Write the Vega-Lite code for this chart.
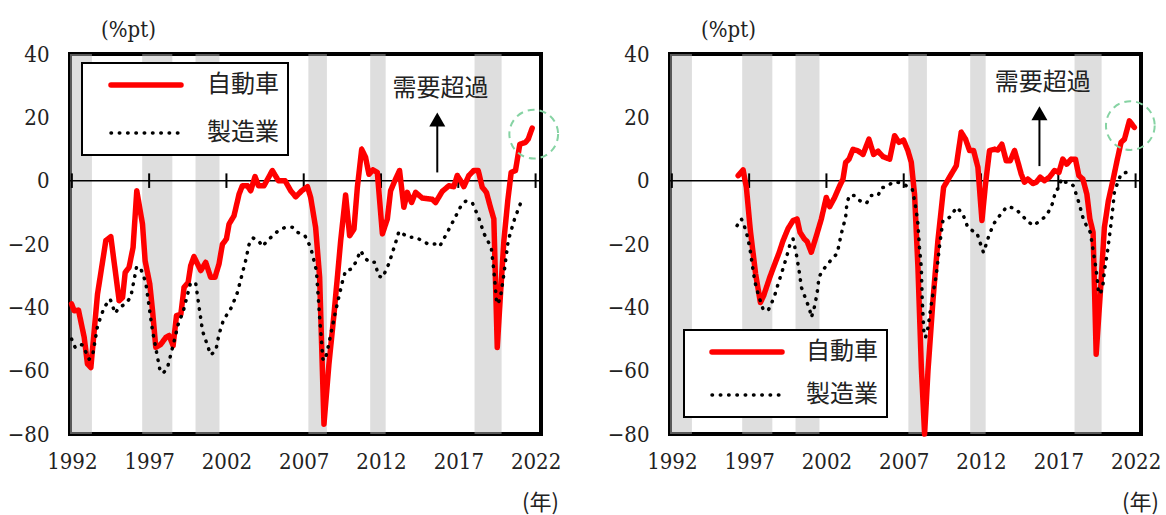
{
"$schema": "https://vega.github.io/schema/vega-lite/v6.json",
"padding": {"left": 5, "top": 16, "right": 5, "bottom": 0},
"background": "white",
"spacing": 129,
"bounds": "flush",
"datasets": {
"bands": [{"x":1991.88,"x2":1993.3},{"x":1996.55,"x2":1998.5},{"x":2000.0,"x2":2001.55},{"x":2007.3,"x2":2008.5},{"x":2011.3,"x2":2012.3},{"x":2018.05,"x2":2019.8}],
"ticks": [{"x":1992},{"x":1997},{"x":2002},{"x":2007},{"x":2012},{"x":2017},{"x":2022}],
"L": [
{"s":"自動車","x":1991.98,"y":-38.9},{"s":"自動車","x":1992.15,"y":-41.1},{"s":"自動車","x":1992.43,"y":-40.9},{"s":"自動車","x":1992.8,"y":-49.5},{"s":"自動車","x":1993.01,"y":-57.9},{"s":"自動車","x":1993.23,"y":-59},{"s":"自動車","x":1993.66,"y":-35.8},{"s":"自動車","x":1994.2,"y":-18.9},{"s":"自動車","x":1994.52,"y":-17.7},{"s":"自動車","x":1995.06,"y":-37.9},{"s":"自動車","x":1995.28,"y":-36.9},{"s":"自動車","x":1995.45,"y":-29},{"s":"自動車","x":1995.7,"y":-27.4},{"s":"自動車","x":1995.96,"y":-21.1},{"s":"自動車","x":1996.2,"y":-3.2},{"s":"自動車","x":1996.57,"y":-13.7},{"s":"自動車","x":1996.74,"y":-25.3},{"s":"自動車","x":1997.04,"y":-32.6},{"s":"自動車","x":1997.22,"y":-41.1},{"s":"自動車","x":1997.43,"y":-52.6},{"s":"自動車","x":1997.75,"y":-51.7},{"s":"自動車","x":1998.08,"y":-49.5},{"s":"自動車","x":1998.29,"y":-48.9},{"s":"自動車","x":1998.55,"y":-52.1},{"s":"自動車","x":1998.77,"y":-42.6},{"s":"自動車","x":1999.05,"y":-42.2},{"s":"自動車","x":1999.26,"y":-33.7},{"s":"自動車","x":1999.52,"y":-32.2},{"s":"自動車","x":1999.69,"y":-26.8},{"s":"自動車","x":1999.9,"y":-24},{"s":"自動車","x":2000.34,"y":-28.4},{"s":"自動車","x":2000.66,"y":-25.8},{"s":"自動車","x":2000.98,"y":-30.5},{"s":"自動車","x":2001.26,"y":-30.5},{"s":"自動車","x":2001.52,"y":-26.3},{"s":"自動車","x":2001.74,"y":-20.1},{"s":"自動車","x":2002.0,"y":-18.4},{"s":"自動車","x":2002.17,"y":-13.7},{"s":"自動車","x":2002.49,"y":-11.1},{"s":"自動車","x":2002.82,"y":-4.2},{"s":"自動車","x":2003.03,"y":-1.6},{"s":"自動車","x":2003.36,"y":-1.6},{"s":"自動車","x":2003.57,"y":-3.2},{"s":"自動車","x":2003.85,"y":1.3},{"s":"自動車","x":2004.07,"y":-1.6},{"s":"自動車","x":2004.43,"y":-1.6},{"s":"自動車","x":2004.97,"y":3.2},{"s":"自動車","x":2005.36,"y":0},{"s":"自動車","x":2005.79,"y":0},{"s":"自動車","x":2006.16,"y":-3.2},{"s":"自動車","x":2006.48,"y":-5.1},{"s":"自動車","x":2006.87,"y":-3.2},{"s":"自動車","x":2007.24,"y":-1.9},{"s":"自動車","x":2007.45,"y":-5.3},{"s":"自動車","x":2007.77,"y":-14.8},{"s":"自動車","x":2008.03,"y":-30.5},{"s":"自動車","x":2008.31,"y":-76.9},{"s":"自動車","x":2008.63,"y":-58},{"s":"自動車","x":2008.96,"y":-42.1},{"s":"自動車","x":2009.39,"y":-19},{"s":"自動車","x":2009.71,"y":-4.5},{"s":"自動車","x":2009.97,"y":-17.4},{"s":"自動車","x":2010.25,"y":-15.3},{"s":"自動車","x":2010.47,"y":-2.1},{"s":"自動車","x":2010.75,"y":9.9},{"s":"自動車","x":2011.0,"y":7.4},{"s":"自動車","x":2011.22,"y":2},{"s":"自動車","x":2011.48,"y":3.4},{"s":"自動車","x":2011.76,"y":2.6},{"s":"自動車","x":2012.09,"y":-16.8},{"s":"自動車","x":2012.41,"y":-12.1},{"s":"自動車","x":2012.62,"y":-3.2},{"s":"自動車","x":2012.94,"y":0.5},{"s":"自動車","x":2013.2,"y":3.2},{"s":"自動車","x":2013.48,"y":-8.4},{"s":"自動車","x":2013.7,"y":-3.7},{"s":"自動車","x":2013.98,"y":-6.9},{"s":"自動車","x":2014.24,"y":-3.7},{"s":"自動車","x":2014.67,"y":-5.5},{"s":"自動車","x":2015.32,"y":-5.9},{"s":"自動車","x":2015.53,"y":-6.9},{"s":"自動車","x":2015.96,"y":-3.4},{"s":"自動車","x":2016.39,"y":-1.6},{"s":"自動車","x":2016.71,"y":-1.9},{"s":"自動車","x":2016.93,"y":1.6},{"s":"自動車","x":2017.15,"y":0},{"s":"自動車","x":2017.36,"y":-1.9},{"s":"自動車","x":2017.68,"y":1.6},{"s":"自動車","x":2018.0,"y":3.2},{"s":"自動車","x":2018.29,"y":3.2},{"s":"自動車","x":2018.55,"y":-2.1},{"s":"自動車","x":2018.82,"y":-3.7},{"s":"自動車","x":2019.08,"y":-8.4},{"s":"自動車","x":2019.3,"y":-12.1},{"s":"自動車","x":2019.52,"y":-52.7},{"s":"自動車","x":2019.73,"y":-35.8},{"s":"自動車","x":2019.95,"y":-18.9},{"s":"自動車","x":2020.2,"y":-6.3},{"s":"自動車","x":2020.42,"y":2.6},{"s":"自動車","x":2020.7,"y":3.2},{"s":"自動車","x":2020.98,"y":11.5},{"s":"自動車","x":2021.35,"y":12.1},{"s":"自動車","x":2021.52,"y":13.1},{"s":"自動車","x":2021.78,"y":16.6},
{"s":"製造業","x":1991.98,"y":-50},{"s":"製造業","x":1992.21,"y":-52.6},{"s":"製造業","x":1992.47,"y":-51.6},{"s":"製造業","x":1992.69,"y":-51.9},{"s":"製造業","x":1993.12,"y":-56.4},{"s":"製造業","x":1993.34,"y":-55.3},{"s":"製造業","x":1993.66,"y":-45.9},{"s":"製造業","x":1994.09,"y":-40},{"s":"製造業","x":1994.48,"y":-37.4},{"s":"製造業","x":1994.8,"y":-41.9},{"s":"製造業","x":1995.06,"y":-40},{"s":"製造業","x":1995.45,"y":-39},{"s":"製造業","x":1995.81,"y":-36.8},{"s":"製造業","x":1996.18,"y":-27.4},{"s":"製造業","x":1996.41,"y":-27.2},{"s":"製造業","x":1996.78,"y":-32.1},{"s":"製造業","x":1997.22,"y":-47.5},{"s":"製造業","x":1997.69,"y":-59.6},{"s":"製造業","x":1997.9,"y":-60.9},{"s":"製造業","x":1998.19,"y":-59},{"s":"製造業","x":1998.57,"y":-51.6},{"s":"製造業","x":1998.94,"y":-44.2},{"s":"製造業","x":1999.16,"y":-42.1},{"s":"製造業","x":1999.69,"y":-32.1},{"s":"製造業","x":2000.02,"y":-32.6},{"s":"製造業","x":2000.45,"y":-47.4},{"s":"製造業","x":2000.98,"y":-55},{"s":"製造業","x":2001.31,"y":-53.7},{"s":"製造業","x":2001.52,"y":-48.5},{"s":"製造業","x":2001.8,"y":-44.1},{"s":"製造業","x":2002.33,"y":-40},{"s":"製造業","x":2002.71,"y":-35.3},{"s":"製造業","x":2003.25,"y":-25.1},{"s":"製造業","x":2003.46,"y":-20.2},{"s":"製造業","x":2003.72,"y":-18.1},{"s":"製造業","x":2004.07,"y":-18.9},{"s":"製造業","x":2004.33,"y":-20.8},{"s":"製造業","x":2004.65,"y":-18.9},{"s":"製造業","x":2005.4,"y":-15.6},{"s":"製造業","x":2005.83,"y":-14.7},{"s":"製造業","x":2006.26,"y":-14.7},{"s":"製造業","x":2006.59,"y":-16.3},{"s":"製造業","x":2007.08,"y":-17.4},{"s":"製造業","x":2007.45,"y":-21.1},{"s":"製造業","x":2007.82,"y":-28.4},{"s":"製造業","x":2008.03,"y":-43.2},{"s":"製造業","x":2008.24,"y":-56.3},{"s":"製造業","x":2008.37,"y":-56.8},{"s":"製造業","x":2008.53,"y":-53.7},{"s":"製造業","x":2009.07,"y":-41},{"s":"製造業","x":2009.5,"y":-32},{"s":"製造業","x":2009.71,"y":-28.4},{"s":"製造業","x":2010.1,"y":-27.9},{"s":"製造業","x":2010.36,"y":-25.8},{"s":"製造業","x":2010.68,"y":-22.1},{"s":"製造業","x":2010.96,"y":-24.4},{"s":"製造業","x":2011.26,"y":-25.8},{"s":"製造業","x":2011.61,"y":-25.8},{"s":"製造業","x":2011.83,"y":-30},{"s":"製造業","x":2012.09,"y":-30.7},{"s":"製造業","x":2012.52,"y":-26.1},{"s":"製造業","x":2013.02,"y":-18.4},{"s":"製造業","x":2013.16,"y":-16},{"s":"製造業","x":2013.77,"y":-17.9},{"s":"製造業","x":2014.28,"y":-17.9},{"s":"製造業","x":2014.71,"y":-19.2},{"s":"製造業","x":2015.14,"y":-20.2},{"s":"製造業","x":2015.49,"y":-20},{"s":"製造業","x":2015.79,"y":-20.8},{"s":"製造業","x":2016.29,"y":-16.3},{"s":"製造業","x":2016.71,"y":-12.4},{"s":"製造業","x":2017.15,"y":-8.2},{"s":"製造業","x":2017.47,"y":-6.5},{"s":"製造業","x":2017.9,"y":-6.9},{"s":"製造業","x":2018.33,"y":-11.8},{"s":"製造業","x":2018.65,"y":-16.6},{"s":"製造業","x":2019.13,"y":-21.1},{"s":"製造業","x":2019.3,"y":-28.4},{"s":"製造業","x":2019.48,"y":-38.4},{"s":"製造業","x":2019.56,"y":-39},{"s":"製造業","x":2019.73,"y":-36.8},{"s":"製造業","x":2019.95,"y":-29.5},{"s":"製造業","x":2020.23,"y":-18.9},{"s":"製造業","x":2020.64,"y":-12.1},{"s":"製造業","x":2021.02,"y":-7.2},{"s":"製造業","x":2021.41,"y":-6.1}
],
"R": [
{"s":"自動車","x":1996.29,"y":1.6},{"s":"自動車","x":1996.61,"y":3.4},{"s":"自動車","x":1996.82,"y":-2.1},{"s":"自動車","x":1997.08,"y":-15.8},{"s":"自動車","x":1997.42,"y":-29.5},{"s":"自動車","x":1997.73,"y":-38.5},{"s":"自動車","x":1997.94,"y":-36.3},{"s":"自動車","x":1998.33,"y":-30.6},{"s":"自動車","x":1998.65,"y":-26.4},{"s":"自動車","x":1998.94,"y":-22.7},{"s":"自動車","x":1999.19,"y":-19},{"s":"自動車","x":1999.52,"y":-15.1},{"s":"自動車","x":1999.84,"y":-12.6},{"s":"自動車","x":2000.1,"y":-12.1},{"s":"自動車","x":2000.29,"y":-16.3},{"s":"自動車","x":2000.57,"y":-18.4},{"s":"自動車","x":2000.75,"y":-19.2},{"s":"自動車","x":2001.02,"y":-22.6},{"s":"自動車","x":2001.35,"y":-17.4},{"s":"自動車","x":2001.67,"y":-12.1},{"s":"自動車","x":2001.99,"y":-5.3},{"s":"自動車","x":2002.21,"y":-8.2},{"s":"自動車","x":2002.53,"y":-5.3},{"s":"自動車","x":2002.85,"y":-1.7},{"s":"自動車","x":2003.07,"y":0.5},{"s":"自動車","x":2003.24,"y":5.7},{"s":"自動車","x":2003.46,"y":6.8},{"s":"自動車","x":2003.72,"y":9.9},{"s":"自動車","x":2004.04,"y":9.4},{"s":"自動車","x":2004.37,"y":8.3},{"s":"自動車","x":2004.75,"y":13.1},{"s":"自動車","x":2005.05,"y":8.3},{"s":"自動車","x":2005.34,"y":9.3},{"s":"自動車","x":2005.66,"y":7.6},{"s":"自動車","x":2006.09,"y":6.8},{"s":"自動車","x":2006.41,"y":14.2},{"s":"自動車","x":2006.69,"y":12.1},{"s":"自動車","x":2006.99,"y":12.8},{"s":"自動車","x":2007.27,"y":9.5},{"s":"自動車","x":2007.49,"y":5.8},{"s":"自動車","x":2007.7,"y":-4.3},{"s":"自動車","x":2007.92,"y":-27.4},{"s":"自動車","x":2008.14,"y":-59},{"s":"自動車","x":2008.35,"y":-80},{"s":"自動車","x":2008.57,"y":-60},{"s":"自動車","x":2008.89,"y":-37.9},{"s":"自動車","x":2009.21,"y":-19},{"s":"自動車","x":2009.58,"y":-2.1},{"s":"自動車","x":2009.96,"y":1.1},{"s":"自動車","x":2010.4,"y":4.7},{"s":"自動車","x":2010.72,"y":15.3},{"s":"自動車","x":2011.0,"y":13.1},{"s":"自動車","x":2011.26,"y":9.5},{"s":"自動車","x":2011.52,"y":9.5},{"s":"自動車","x":2011.8,"y":4.2},{"s":"自動車","x":2012.06,"y":-12.6},{"s":"自動車","x":2012.29,"y":-1.1},{"s":"自動車","x":2012.55,"y":9.5},{"s":"自動車","x":2012.87,"y":9.9},{"s":"自動車","x":2013.09,"y":9.7},{"s":"自動車","x":2013.35,"y":11.5},{"s":"自動車","x":2013.63,"y":6.3},{"s":"自動車","x":2013.89,"y":6.3},{"s":"自動車","x":2014.17,"y":9.5},{"s":"自動車","x":2014.39,"y":5.8},{"s":"自動車","x":2014.6,"y":2.1},{"s":"自動車","x":2014.81,"y":-0.5},{"s":"自動車","x":2015.03,"y":0.5},{"s":"自動車","x":2015.36,"y":-0.9},{"s":"自動車","x":2015.57,"y":-0.5},{"s":"自動車","x":2015.83,"y":1.1},{"s":"自動車","x":2016.1,"y":0},{"s":"自動車","x":2016.43,"y":1.1},{"s":"自動車","x":2016.75,"y":3.2},{"s":"自動車","x":2017.04,"y":2.6},{"s":"自動車","x":2017.29,"y":6.8},{"s":"自動車","x":2017.55,"y":5.2},{"s":"自動車","x":2017.83,"y":6.8},{"s":"自動車","x":2018.11,"y":6.8},{"s":"自動車","x":2018.33,"y":1.6},{"s":"自動車","x":2018.59,"y":0.5},{"s":"自動車","x":2018.85,"y":-4.3},{"s":"自動車","x":2019.04,"y":-12},{"s":"自動車","x":2019.25,"y":-16.3},{"s":"自動車","x":2019.45,"y":-54.8},{"s":"自動車","x":2019.77,"y":-31.7},{"s":"自動車","x":2019.98,"y":-14.8},{"s":"自動車","x":2020.24,"y":-6.3},{"s":"自動車","x":2020.53,"y":0},{"s":"自動車","x":2020.8,"y":6.3},{"s":"自動車","x":2021.06,"y":12.1},{"s":"自動車","x":2021.28,"y":13.1},{"s":"自動車","x":2021.6,"y":18.9},{"s":"自動車","x":2021.92,"y":16.8},
{"s":"製造業","x":1996.22,"y":-14.2},{"s":"製造業","x":1996.5,"y":-12.1},{"s":"製造業","x":1996.65,"y":-13.8},{"s":"製造業","x":1996.82,"y":-16.3},{"s":"製造業","x":1997.04,"y":-21.1},{"s":"製造業","x":1997.36,"y":-31.7},{"s":"製造業","x":1997.58,"y":-35.8},{"s":"製造業","x":1997.9,"y":-40.6},{"s":"製造業","x":1998.22,"y":-41.1},{"s":"製造業","x":1998.44,"y":-38.8},{"s":"製造業","x":1998.65,"y":-36.3},{"s":"製造業","x":1998.87,"y":-32.7},{"s":"製造業","x":1999.15,"y":-28.4},{"s":"製造業","x":1999.41,"y":-24.3},{"s":"製造業","x":1999.62,"y":-20.5},{"s":"製造業","x":1999.84,"y":-18.4},{"s":"製造業","x":2000.05,"y":-23.1},{"s":"製造業","x":2000.23,"y":-28.4},{"s":"製造業","x":2000.38,"y":-33.7},{"s":"製造業","x":2000.75,"y":-38.5},{"s":"製造業","x":2000.91,"y":-40.5},{"s":"製造業","x":2001.02,"y":-43.2},{"s":"製造業","x":2001.17,"y":-41.1},{"s":"製造業","x":2001.39,"y":-35.8},{"s":"製造業","x":2001.52,"y":-30.5},{"s":"製造業","x":2001.74,"y":-28.4},{"s":"製造業","x":2002.1,"y":-26.3},{"s":"製造業","x":2002.43,"y":-24.2},{"s":"製造業","x":2002.69,"y":-23.1},{"s":"製造業","x":2002.96,"y":-16.8},{"s":"製造業","x":2003.24,"y":-11.6},{"s":"製造業","x":2003.33,"y":-6.9},{"s":"製造業","x":2003.5,"y":-4.6},{"s":"製造業","x":2003.82,"y":-4.7},{"s":"製造業","x":2004.15,"y":-6.3},{"s":"製造業","x":2004.58,"y":-7.2},{"s":"製造業","x":2004.9,"y":-4.7},{"s":"製造業","x":2005.34,"y":-4.7},{"s":"製造業","x":2005.55,"y":-2.3},{"s":"製造業","x":2005.87,"y":-1.9},{"s":"製造業","x":2006.3,"y":-0.5},{"s":"製造業","x":2006.63,"y":-0.5},{"s":"製造業","x":2006.99,"y":-1.1},{"s":"製造業","x":2007.34,"y":-2.1},{"s":"製造業","x":2007.55,"y":-2.6},{"s":"製造業","x":2007.7,"y":-6.3},{"s":"製造業","x":2007.81,"y":-9.5},{"s":"製造業","x":2007.92,"y":-13.7},{"s":"製造業","x":2008.02,"y":-21.1},{"s":"製造業","x":2008.14,"y":-27.5},{"s":"製造業","x":2008.2,"y":-37.9},{"s":"製造業","x":2008.31,"y":-48.5},{"s":"製造業","x":2008.41,"y":-49.5},{"s":"製造業","x":2008.57,"y":-46.4},{"s":"製造業","x":2008.72,"y":-41.1},{"s":"製造業","x":2008.89,"y":-35.8},{"s":"製造業","x":2009.1,"y":-30},{"s":"製造業","x":2009.32,"y":-20.5},{"s":"製造業","x":2009.54,"y":-12.5},{"s":"製造業","x":2009.96,"y":-11.6},{"s":"製造業","x":2010.44,"y":-8.4},{"s":"製造業","x":2010.83,"y":-10.6},{"s":"製造業","x":2011.15,"y":-14.8},{"s":"製造業","x":2011.48,"y":-15.9},{"s":"製造業","x":2011.73,"y":-16.4},{"s":"製造業","x":2011.9,"y":-19},{"s":"製造業","x":2012.16,"y":-22.7},{"s":"製造業","x":2012.34,"y":-20},{"s":"製造業","x":2012.51,"y":-17.4},{"s":"製造業","x":2012.81,"y":-13.7},{"s":"製造業","x":2013.2,"y":-11.1},{"s":"製造業","x":2013.67,"y":-8.2},{"s":"製造業","x":2014.17,"y":-8.7},{"s":"製造業","x":2014.6,"y":-10.6},{"s":"製造業","x":2014.97,"y":-12.7},{"s":"製造業","x":2015.4,"y":-14.2},{"s":"製造業","x":2015.83,"y":-12.6},{"s":"製造業","x":2016.22,"y":-11.1},{"s":"製造業","x":2016.47,"y":-8.9},{"s":"製造業","x":2016.65,"y":-6.9},{"s":"製造業","x":2016.82,"y":-3.2},{"s":"製造業","x":2017.07,"y":-2.1},{"s":"製造業","x":2017.19,"y":0.5},{"s":"製造業","x":2017.4,"y":-0.5},{"s":"製造業","x":2017.68,"y":-0.5},{"s":"製造業","x":2017.98,"y":-1.6},{"s":"製造業","x":2018.15,"y":-4.2},{"s":"製造業","x":2018.33,"y":-6.9},{"s":"製造業","x":2018.59,"y":-11.6},{"s":"製造業","x":2018.8,"y":-14},{"s":"製造業","x":2019.07,"y":-16.3},{"s":"製造業","x":2019.38,"y":-25.9},{"s":"製造業","x":2019.51,"y":-30.5},{"s":"製造業","x":2019.6,"y":-35.4},{"s":"製造業","x":2019.72,"y":-35.8},{"s":"製造業","x":2019.88,"y":-33.2},{"s":"製造業","x":2019.98,"y":-28.5},{"s":"製造業","x":2020.16,"y":-23.2},{"s":"製造業","x":2020.3,"y":-17.9},{"s":"製造業","x":2020.42,"y":-13.2},{"s":"製造業","x":2020.53,"y":-8.4},{"s":"製造業","x":2020.63,"y":-3.7},{"s":"製造業","x":2020.85,"y":-0.5},{"s":"製造業","x":2021.06,"y":2.1},{"s":"製造業","x":2021.39,"y":2.6},{"s":"製造業","x":2021.71,"y":1.3}
]
},
"hconcat": [
{
"width": 471, "height": 380,
"layer": [
{"data": {"name": "bands"}, "mark": {"type": "rect", "color": "#b9b9b9", "opacity": 0.48},
 "encoding": {"x": {"field": "x", "type": "quantitative", "scale": {"domain": [1991.88, 2022.35], "nice": false, "zero": false}, "axis": {"values": [1992,1997,2002,2007,2012,2017,2022], "format": "d", "title": "(年)"}}, "x2": {"field": "x2"}}},
{"data": {"values": [{}]}, "mark": {"type": "rule", "color": "black", "strokeWidth": 1.5},
 "encoding": {"y": {"datum": 0, "type": "quantitative", "scale": {"domain": [-80, 40], "nice": false, "zero": false}, "axis": {"values": [-80,-60,-40,-20,0,20,40], "title": "(%pt)"}}}},
{"data": {"name": "ticks"}, "mark": {"type": "rule", "color": "black", "strokeWidth": 2},
 "encoding": {"x": {"field": "x", "type": "quantitative", "axis": {"values": [1992,1997,2002,2007,2012,2017,2022], "format": "d", "title": "(年)"}}, "y": {"datum": -2.3, "type": "quantitative"}, "y2": {"datum": 2.3}}},
{"data": {"name": "L"}, "transform": [{"filter": "datum.s === '自動車'"}],
 "mark": {"type": "line", "strokeWidth": 5.5, "strokeCap": "round", "strokeJoin": "round"},
 "encoding": {
  "x": {"field": "x", "type": "quantitative", "axis": {"values": [1992,1997,2002,2007,2012,2017,2022], "format": "d", "title": "(年)"}},
  "y": {"field": "y", "type": "quantitative", "axis": {"values": [-80,-60,-40,-20,0,20,40], "title": "(%pt)"}},
  "color": {"field": "s", "type": "nominal", "scale": {"domain": ["自動車","製造業"], "range": ["#ff0000","#000000"]},
   "legend": {"orient": "none", "legendX": 12, "legendY": 9, "title": null, "strokeColor": "black", "fillColor": "white", "padding": 9, "clipHeight": 26, "symbolType": "stroke", "symbolSize": 4900, "symbolOffset": 18, "labelFont": "Noto Sans CJK JP", "labelFontSize": 24, "labelColor": "#222222", "labelOffset": 24, "rowPadding": 22, "labelExpr": "datum.label + '\u2002'",
    "encode": {"symbols": {"update": {"strokeCap": {"value": "round"}, "strokeWidth": {"signal": "(datum.value === '自動車' ? 5.5 : 3.5)"}}}, "legend": {"update": {"strokeWidth": {"value": 2}}}}}},
  "strokeDash": {"field": "s", "type": "nominal", "scale": {"domain": ["自動車","製造業"], "range": [[1,0],[0.5,7.8]]}}
 }},
{"data": {"name": "L"}, "transform": [{"filter": "datum.s === '製造業'"}],
 "mark": {"type": "line", "strokeWidth": 3.5, "strokeCap": "round", "strokeJoin": "round"},
 "encoding": {
  "x": {"field": "x", "type": "quantitative", "axis": {"values": [1992,1997,2002,2007,2012,2017,2022], "format": "d", "title": "(年)"}},
  "y": {"field": "y", "type": "quantitative", "axis": {"values": [-80,-60,-40,-20,0,20,40], "title": "(%pt)"}},
  "color": {"field": "s", "type": "nominal", "scale": {"domain": ["自動車","製造業"], "range": ["#ff0000","#000000"]}},
  "strokeDash": {"field": "s", "type": "nominal", "scale": {"domain": ["自動車","製造業"], "range": [[1,0],[0.5,7.8]]}}
 }},
{"data": {"values": [{}]}, "mark": {"type": "rule", "color": "black", "strokeWidth": 2},
 "encoding": {"x": {"datum": 2015.64, "type": "quantitative"}, "y": {"datum": 2.6, "type": "quantitative"}, "y2": {"datum": 19.3}}},
{"data": {"values": [{}]}, "mark": {"type": "point", "shape": "triangle-up", "size": 256, "filled": true, "color": "black", "opacity": 1},
 "encoding": {"x": {"datum": 2015.64, "type": "quantitative"}, "y": {"datum": 19.3, "type": "quantitative"}}},
{"data": {"values": [{}]}, "mark": {"type": "text", "text": "需要超過", "font": "Noto Sans CJK JP", "fontSize": 24, "color": "#222222", "align": "center", "baseline": "middle"},
 "encoding": {"x": {"datum": 2015.85, "type": "quantitative"}, "y": {"datum": 29, "type": "quantitative"}}},
{"data": {"values": [{}]}, "mark": {"type": "point", "shape": "circle", "size": 2376, "filled": false, "color": "#86d3a3", "strokeWidth": 2, "strokeDash": [7,5], "opacity": 1},
 "encoding": {"x": {"datum": 2021.88, "type": "quantitative"}, "y": {"datum": 14.7, "type": "quantitative"}}}
]
},
{
"width": 471, "height": 380,
"layer": [
{"data": {"name": "bands"}, "mark": {"type": "rect", "color": "#b9b9b9", "opacity": 0.48},
 "encoding": {"x": {"field": "x", "type": "quantitative", "scale": {"domain": [1991.88, 2022.35], "nice": false, "zero": false}, "axis": {"values": [1992,1997,2002,2007,2012,2017,2022], "format": "d", "title": "(年)"}}, "x2": {"field": "x2"}}},
{"data": {"values": [{}]}, "mark": {"type": "rule", "color": "black", "strokeWidth": 1.5},
 "encoding": {"y": {"datum": 0, "type": "quantitative", "scale": {"domain": [-80, 40], "nice": false, "zero": false}, "axis": {"values": [-80,-60,-40,-20,0,20,40], "title": "(%pt)"}}}},
{"data": {"name": "ticks"}, "mark": {"type": "rule", "color": "black", "strokeWidth": 2},
 "encoding": {"x": {"field": "x", "type": "quantitative", "axis": {"values": [1992,1997,2002,2007,2012,2017,2022], "format": "d", "title": "(年)"}}, "y": {"datum": -2.3, "type": "quantitative"}, "y2": {"datum": 2.3}}},
{"data": {"name": "R"}, "transform": [{"filter": "datum.s === '自動車'"}],
 "mark": {"type": "line", "strokeWidth": 5.5, "strokeCap": "round", "strokeJoin": "round"},
 "encoding": {
  "x": {"field": "x", "type": "quantitative", "axis": {"values": [1992,1997,2002,2007,2012,2017,2022], "format": "d", "title": "(年)"}},
  "y": {"field": "y", "type": "quantitative", "axis": {"values": [-80,-60,-40,-20,0,20,40], "title": "(%pt)"}},
  "color": {"field": "s", "type": "nominal", "scale": {"domain": ["自動車","製造業"], "range": ["#ff0000","#000000"]},
   "legend": {"orient": "none", "legendX": 14, "legendY": 276, "title": null, "strokeColor": "black", "fillColor": "white", "padding": 9, "clipHeight": 26, "symbolType": "stroke", "symbolSize": 4900, "symbolOffset": 17, "labelFont": "Noto Sans CJK JP", "labelFontSize": 24, "labelColor": "#222222", "labelOffset": 22, "rowPadding": 17, "labelExpr": "datum.label + '\u2002'",
    "encode": {"symbols": {"update": {"strokeCap": {"value": "round"}, "strokeWidth": {"signal": "(datum.value === '自動車' ? 5.5 : 3.5)"}}}, "legend": {"update": {"strokeWidth": {"value": 2}}}}}},
  "strokeDash": {"field": "s", "type": "nominal", "scale": {"domain": ["自動車","製造業"], "range": [[1,0],[0.5,7.8]]}}
 }},
{"data": {"name": "R"}, "transform": [{"filter": "datum.s === '製造業'"}],
 "mark": {"type": "line", "strokeWidth": 3.5, "strokeCap": "round", "strokeJoin": "round"},
 "encoding": {
  "x": {"field": "x", "type": "quantitative", "axis": {"values": [1992,1997,2002,2007,2012,2017,2022], "format": "d", "title": "(年)"}},
  "y": {"field": "y", "type": "quantitative", "axis": {"values": [-80,-60,-40,-20,0,20,40], "title": "(%pt)"}},
  "color": {"field": "s", "type": "nominal", "scale": {"domain": ["自動車","製造業"], "range": ["#ff0000","#000000"]}},
  "strokeDash": {"field": "s", "type": "nominal", "scale": {"domain": ["自動車","製造業"], "range": [[1,0],[0.5,7.8]]}}
 }},
{"data": {"values": [{}]}, "mark": {"type": "rule", "color": "black", "strokeWidth": 2},
 "encoding": {"x": {"datum": 2015.78, "type": "quantitative"}, "y": {"datum": 4.6, "type": "quantitative"}, "y2": {"datum": 21.3}}},
{"data": {"values": [{}]}, "mark": {"type": "point", "shape": "triangle-up", "size": 256, "filled": true, "color": "black", "opacity": 1},
 "encoding": {"x": {"datum": 2015.78, "type": "quantitative"}, "y": {"datum": 21.3, "type": "quantitative"}}},
{"data": {"values": [{}]}, "mark": {"type": "text", "text": "需要超過", "font": "Noto Sans CJK JP", "fontSize": 24, "color": "#222222", "align": "center", "baseline": "middle"},
 "encoding": {"x": {"datum": 2015.99, "type": "quantitative"}, "y": {"datum": 30.8, "type": "quantitative"}}},
{"data": {"values": [{}]}, "mark": {"type": "point", "shape": "circle", "size": 2376, "filled": false, "color": "#86d3a3", "strokeWidth": 2, "strokeDash": [7,5], "opacity": 1},
 "encoding": {"x": {"datum": 2021.66, "type": "quantitative"}, "y": {"datum": 17.4, "type": "quantitative"}}}
]
}
],
"resolve": {"scale": {"x": "independent", "y": "independent", "color": "independent", "strokeDash": "independent"}},
"config": {
 "view": {"stroke": "black", "strokeWidth": 4},
 "axis": {"domain": false, "ticks": false, "tickSize": 0, "grid": false, "labelFont": "DejaVu Serif Condensed, DejaVu Serif", "labelFontSize": 22, "labelColor": "#222222", "titleFontWeight": "normal", "titleColor": "#222222"},
 "axisX": {"labelPadding": 17, "titleX": 470, "titleY": 68, "titleAlign": "center", "titleBaseline": "middle", "titleFont": "Noto Sans CJK JP", "titleFontSize": 22},
 "axisY": {"labelPadding": 21, "titleAngle": 0, "titleX": 58, "titleY": -25, "titleAlign": "center", "titleBaseline": "middle", "titleFont": "DejaVu Serif Condensed, DejaVu Serif", "titleFontSize": 22}
}
}
